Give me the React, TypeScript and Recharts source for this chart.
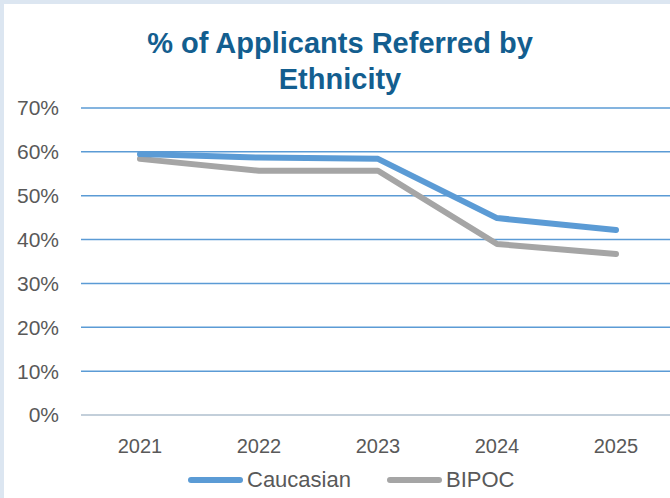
import { LineChart, Line, XAxis, YAxis, CartesianGrid } from "recharts"

const years = ["2021", "2022", "2023", "2024", "2025"]
const caucasian = [59.5, 58.7, 58.4, 44.9, 42.2]
const bipoc = [58.4, 55.7, 55.7, 39.0, 36.7]
const yTicks = [0, 10, 20, 30, 40, 50, 60, 70]

const rows = years.map((year, i) => ({ year, caucasian: caucasian[i], bipoc: bipoc[i] }))

const BLUE = "#5B9BD5"
const GREY = "#A5A5A5"
const LABEL = "#595959"
const FONT = "'Liberation Sans', Arial, sans-serif"

function LegendItem({ color, label }: { color: string; label: string }) {
  return (
    <div style={{ display: "flex", alignItems: "center", gap: 4 }}>
      <span style={{ display: "inline-block", width: 55, height: 6, borderRadius: 3, background: color }} />
      <span>{label}</span>
    </div>
  )
}

export default function App() {
  return (
    <div
      style={{
        position: "absolute",
        left: 0,
        top: 0,
        width: 670,
        height: 498,
        overflow: "hidden",
        background: "#fff",
        fontFamily: FONT,
      }}
    >
      <div
        style={{
          position: "absolute",
          left: 0,
          top: 0,
          width: 670,
          height: 498,
          boxSizing: "border-box",
          borderTop: "4px solid #DCE6F1",
          borderLeft: "4px solid #DCE6F1",
          pointerEvents: "none",
          zIndex: 2,
        }}
      />
      <div
        style={{
          position: "absolute",
          left: 90,
          width: 500,
          top: 25,
          textAlign: "center",
          color: "#135E8F",
          fontWeight: 700,
          fontSize: 29,
          lineHeight: "36px",
        }}
      >
        % of Applicants Referred by
        <br />
        Ethnicity
      </div>
      <div style={{ position: "absolute", top: 0, left: 0 }}>
        <LineChart width={680} height={498} data={rows} margin={{ top: 108, right: 4, bottom: 48, left: 0 }}>
          <CartesianGrid vertical={false} stroke={BLUE} strokeWidth={1.5} />
          <XAxis
            dataKey="year"
            padding={{ left: 59, right: 60 }}
            axisLine={{ stroke: "#D9D9D9", strokeWidth: 1.5 }}
            tickLine={false}
            tickSize={0}
            tickMargin={24}
            height={35}
            tick={{ fill: LABEL, fontSize: 20, fontFamily: FONT }}
          />
          <YAxis
            domain={[0, 70]}
            ticks={yTicks}
            width={81}
            axisLine={false}
            tickLine={false}
            tickSize={0}
            tickMargin={22}
            tickFormatter={(v: number) => `${v}%`}
            tick={{ fill: LABEL, fontSize: 21, fontFamily: FONT }}
          />
          <Line
            dataKey="bipoc"
            stroke={GREY}
            strokeWidth={6}
            strokeLinecap="round"
            strokeLinejoin="round"
            dot={false}
            isAnimationActive={false}
          />
          <Line
            dataKey="caucasian"
            stroke={BLUE}
            strokeWidth={6}
            strokeLinecap="round"
            strokeLinejoin="round"
            dot={false}
            isAnimationActive={false}
          />
        </LineChart>
      </div>
      <div
        style={{
          position: "absolute",
          top: 466,
          left: 188,
          display: "flex",
          gap: 36,
          fontSize: 22,
          color: LABEL,
          lineHeight: "28px",
        }}
      >
        <LegendItem color={BLUE} label="Caucasian" />
        <LegendItem color={GREY} label="BIPOC" />
      </div>
    </div>
  )
}
